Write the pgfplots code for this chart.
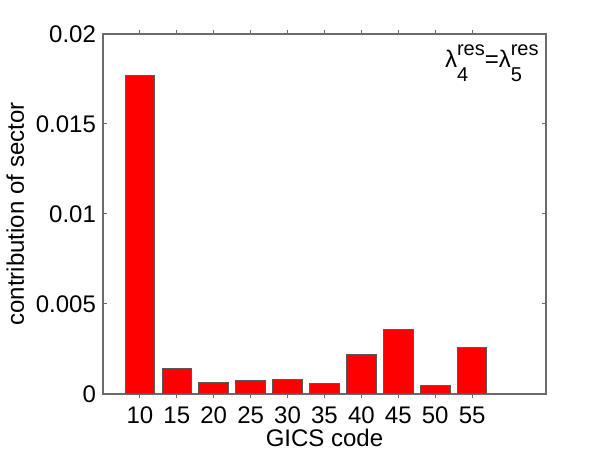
\documentclass[border=0pt]{standalone}
\usepackage{fontspec}
\setmainfont{Liberation Sans}
\usepackage{pgfplots}
\pgfplotsset{compat=1.18}
\definecolor{axgray}{gray}{0.42}
\definecolor{edgegray}{gray}{0.35}
\newsavebox\supbox
\newsavebox\subbox
\newcommand\lamss[1]{λ\sbox\supbox{\fontsize{10}{10}\selectfont res}\sbox\subbox{\fontsize{10}{10}\selectfont #1}\makebox[\wd\supbox][l]{\rlap{\raisebox{6pt}{\usebox\supbox}}\raisebox{-7pt}{\usebox\subbox}}}
\begin{document}
\begin{tikzpicture}
\path (-51.5pt,-29.5pt) rectangle (249.5pt,197pt);
\begin{axis}[at={(0,0)}, anchor=south west, scale only axis,
  width=221.5pt, height=180pt,
  xmin=0, xmax=12, ymin=0, ymax=0.02,
  xtick={1,...,10}, xticklabels={10,15,20,25,30,35,40,45,50,55},
  ytick={0,0.005,0.01,0.015,0.02}, yticklabels={0,0.005,0.01,0.015,0.02},
  scaled y ticks=false,
  tick align=inside, major tick length=2.2pt,
  tick style={axgray, line width=0.5pt},
  axis line style={axgray, line width=0.6pt},
  ticklabel style={font=\fontsize{12}{14}\selectfont},
  xticklabel style={anchor=base, yshift=-12.5pt, inner sep=0pt},
  label style={font=\fontsize{12}{14}\selectfont},
  xlabel={GICS code}, ylabel={contribution of sector},
  xlabel style={at={([yshift=-26.2pt]rel axis cs:0.5,0)}, anchor=base, inner sep=0pt},
  ylabel style={at={([xshift=-39.5pt]rel axis cs:0,0.5)}, anchor=base, inner sep=0pt},
  ybar, bar width=0.8, clip=false,
]
\addplot[fill=red, draw=edgegray, line width=0.5pt] coordinates {
(1,0.01768) (2,0.001426) (3,0.000630) (4,0.000759) (5,0.000796)
(6,0.000593) (7,0.00222) (8,0.00359) (9,0.000444) (10,0.00257)};
\node[anchor=base east, inner sep=0pt, font=\fontsize{12}{14}\selectfont]
  at ([xshift=-3.5pt, yshift=-17pt]rel axis cs:1,1) {\lamss{4}=\lamss{5}};
\end{axis}
\end{tikzpicture}
\end{document}
